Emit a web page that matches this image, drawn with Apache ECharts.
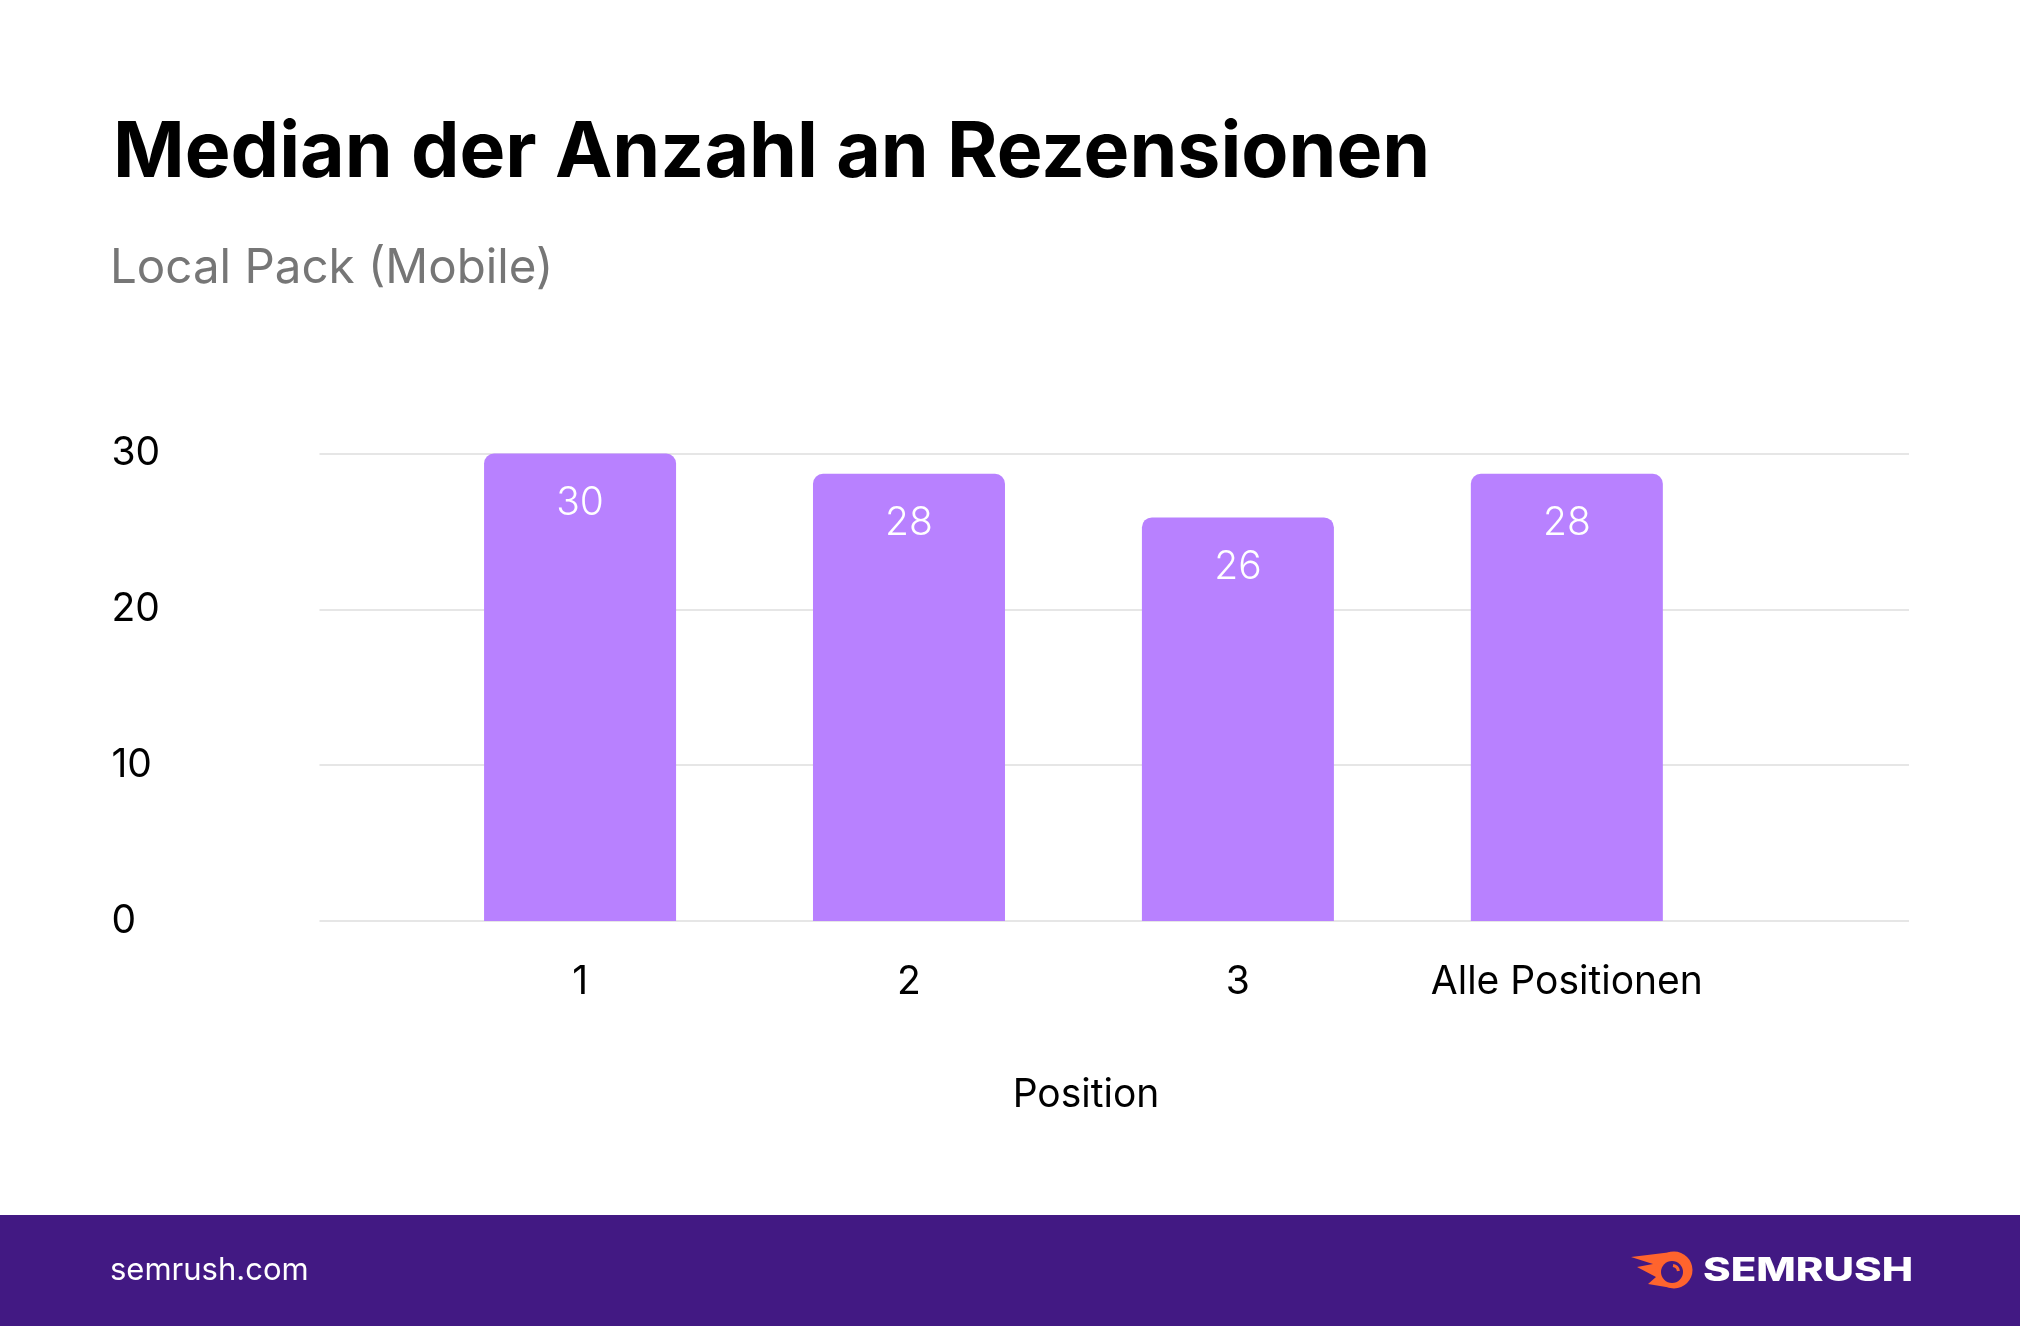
<!DOCTYPE html>
<html>
<head>
<meta charset="utf-8">
<script src="https://cdn.jsdelivr.net/npm/echarts@6/dist/echarts.min.js"></script>
<style>
html,body{margin:0;padding:0;background:#fff;}
#chart{width:2020px;height:1326px;}
</style>
</head>
<body>
<div id="chart"></div>
<script>
// ---- data ----
const categories = ['1', '2', '3', 'Alle Positionen'];
// bar heights as drawn in the picture
const medianReviews = [30, 28.7, 25.9, 28.7];
// value labels as printed on the bars
const barLabels = ['30', '28', '26', '28'];
const yTicks = [0, 10, 20, 30];

const FONT = 'Inter';
const PURPLE = '#421983';
const BAR = '#B881FF';

const chart = echarts.init(document.getElementById('chart'), null, {renderer: 'canvas'});

const option = {
  backgroundColor: '#ffffff',
  animation: false,
  title: [
    {text: 'Median der Anzahl an Rezensionen', left: 108, top: 110,
     textStyle: {fontFamily: FONT, fontWeight: 700, fontSize: 77, color: '#000'}},
    {text: 'Local Pack (Mobile)', left: 105, top: 240,
     textStyle: {fontFamily: FONT, fontWeight: 400, fontSize: 47.5, color: '#767676'}}
  ],
  grid: [
    {left: 319.5, right: 111, top: 453.5, bottom: 405},
    {left: 415.6, right: 288.7, top: 453.5, bottom: 405}
  ],
  xAxis: [
    {gridIndex: 0, type: 'category', data: categories, show: false},
    {gridIndex: 1, type: 'category', data: categories,
     axisLine: {show: false}, axisTick: {show: false},
     axisLabel: {interval: 0, hideOverlap: false, margin: 42, fontFamily: FONT, fontSize: 39, color: '#000'}}
  ],
  yAxis: [
    {gridIndex: 0, type: 'value', min: yTicks[0], max: yTicks[yTicks.length - 1], interval: 10,
     axisLine: {show: false}, axisTick: {show: false},
     axisLabel: {align: 'left', margin: 208, fontFamily: FONT, fontSize: 39, color: '#000'},
     splitLine: {show: true, lineStyle: {color: '#e6e6e6', width: 2}}},
    {gridIndex: 1, type: 'value', min: yTicks[0], max: yTicks[yTicks.length - 1], interval: 10,
     show: false, splitLine: {show: false}}
  ],
  series: [
    {type: 'bar', xAxisIndex: 1, yAxisIndex: 1, data: medianReviews, barWidth: 192,
     itemStyle: {color: BAR, borderRadius: [10, 10, 0, 0]},
     label: {show: true, position: 'insideTop', distance: 30,
             formatter: function (p) { return barLabels[p.dataIndex]; },
             fontFamily: FONT, fontWeight: 300, fontSize: 39, color: '#fff'}}
  ],
  graphic: [
    {type: 'text', x: 1086, y: 1095, style: {text: 'Position', fontFamily: FONT, fontSize: 39,
      fill: '#000', align: 'center', verticalAlign: 'middle'}},
    {type: 'rect', shape: {x: 0, y: 1215, width: 2020, height: 111}, style: {fill: PURPLE}},
    {type: 'text', x: 110, y: 1271, style: {text: 'semrush.com', fontFamily: FONT, fontSize: 31,
      fill: '#fff', align: 'left', verticalAlign: 'middle'}},
    {type: 'polygon', shape: {points: [[1631, 1257], [1672, 1252], [1672, 1288], [1648, 1284], [1656, 1277], [1637, 1267], [1653, 1264]]},
     style: {fill: '#FF642D'}},
    {type: 'circle', shape: {cx: 1674, cy: 1270, r: 18.5}, style: {fill: '#FF642D'}},
    {type: 'circle', shape: {cx: 1672, cy: 1272, r: 11}, style: {fill: PURPLE}},
    {type: 'arc', shape: {cx: 1672, cy: 1272, r: 6.5, startAngle: -Math.PI * 0.45, endAngle: -Math.PI * 0.05},
     style: {stroke: '#FF642D', lineWidth: 3, fill: null}},
    {type: 'text', x: 1703, y: 1271, scaleX: 1.31, style: {text: 'SEMRUSH', fontFamily: FONT, fontWeight: 800,
      fontSize: 32, fill: '#fff', align: 'left', verticalAlign: 'middle'}}
  ]
};
chart.setOption(option);
</script>
</body>
</html>
